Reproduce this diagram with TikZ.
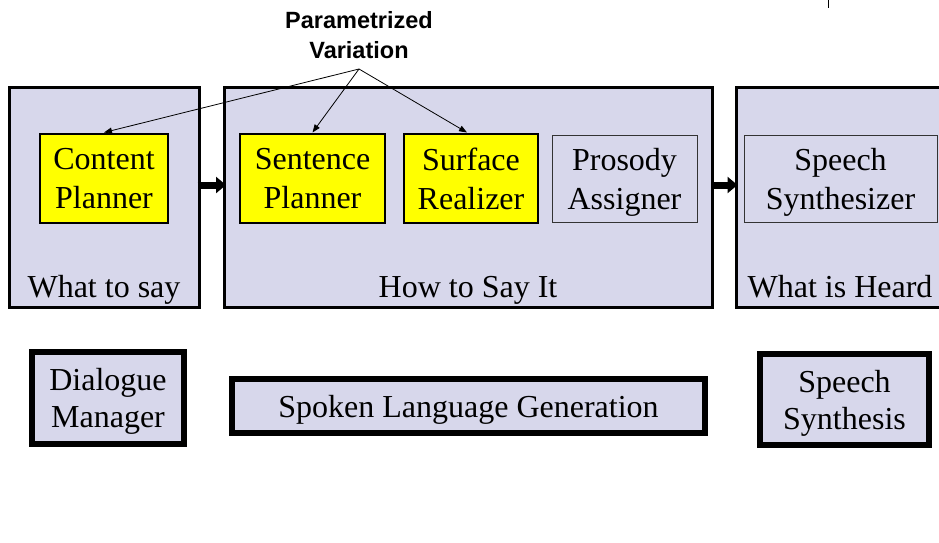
\documentclass[tikz,border=0pt]{standalone}
\usepackage{fontspec}
\setmainfont{Liberation Serif}
\newfontfamily\labelsans{Liberation Sans}
\usetikzlibrary{arrows.meta}
\definecolor{panel}{RGB}{215,215,235}
\definecolor{stage}{RGB}{255,255,0}
\tikzset{
  every node/.style={font=\fontsize{32}{39}\selectfont, align=center, inner sep=0pt},
  phasebox/.style={draw=black, fill=panel, line width=3pt},
  modulebox/.style={draw=black, fill=stage, line width=2pt, text depth=-4pt},
  plainbox/.style={draw=black!80, fill=panel, line width=1pt, text depth=-4pt},
  groupbox/.style={draw=black, fill=panel, line width=6pt, text depth=-6pt, font=\fontsize{32}{37}\selectfont},
  flowarrow/.style={line width=7pt, -{Triangle[length=10pt,width=16pt]}},
  paramarrow/.style={line width=0.8pt, -{Triangle[length=8pt,width=6pt]}}
}
\begin{document}
\begin{tikzpicture}[x=1pt, y=-1pt]
\useasboundingbox (0,0) rectangle (939,543);

% three processing phases
\node[phasebox, minimum width=190pt, minimum height=220pt] (say) at (104,197.5) {};
\node[phasebox, minimum width=488pt, minimum height=220pt] (how) at (468.5,197.5) {};
\node[phasebox, minimum width=210pt, minimum height=220pt] (heard) at (841,197.5) {};

\node[anchor=base] (saylbl) at (104,297) {What to say};
\node[anchor=base] (howlbl) at (468,297) {How to Say It};
\node[anchor=base] (heardlbl) at (840,297) {What is Heard};

% modules inside the phases
\node[modulebox, minimum width=128pt, minimum height=89pt] (cp) at (104,178.5) {Content\\Planner};
\node[modulebox, minimum width=145pt, minimum height=89pt] (sp) at (312.5,178.5) {Sentence\\Planner};
\node[modulebox, minimum width=134pt, minimum height=89pt] (sr) at (471,178.5) {Surface\\Realizer};
\node[plainbox, minimum width=145pt, minimum height=87pt] (pa) at (624.5,178.5) {Prosody\\Assigner};
\node[plainbox, minimum width=193pt, minimum height=87pt] (ss) at (840.5,178.5) {Speech\\Synthesizer};

% flow between phases
\draw[flowarrow] ([yshift=12.5pt,xshift=-3pt]say.east) -- ([yshift=12.5pt,xshift=3pt]how.west);
\draw[flowarrow] ([yshift=12.5pt,xshift=-3pt]how.east) -- ([yshift=12.5pt,xshift=3pt]heard.west);

% parametrized variation
\node[font=\labelsans\bfseries\fontsize{23.5}{30}\selectfont, anchor=base] (pv) at (359,59) {Parametrized\\Variation};
\coordinate (pvsrc) at (359,69);
\draw[paramarrow] (pvsrc) -- ([yshift=0.5pt]cp.north);
\draw[paramarrow] (pvsrc) -- ([yshift=0.5pt]sp.north);
\draw[paramarrow] (pvsrc) -- ([xshift=-4pt,yshift=0.5pt]sr.north);

% system components
\node[groupbox, minimum width=152pt, minimum height=92pt] (dm) at (108,398) {Dialogue\\Manager};
\node[groupbox, minimum width=473pt, minimum height=54pt] (slg) at (468.5,406) {Spoken Language Generation};
\node[groupbox, minimum width=169pt, minimum height=91pt] (syn) at (844.5,399.5) {Speech\\Synthesis};

% small mark at the top edge
\coordinate (tickTop) at (828,0);
\coordinate (tickBot) at (828,8);
\draw[line width=0.8pt] (tickTop) -- (tickBot);
\end{tikzpicture}
\end{document}
